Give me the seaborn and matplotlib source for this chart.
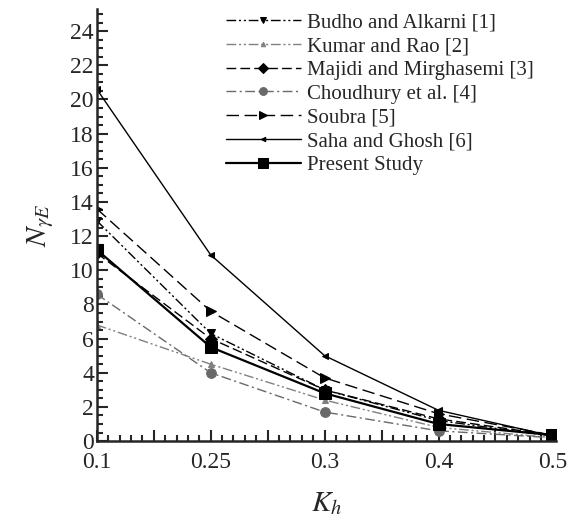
import matplotlib
matplotlib.use('Agg')
import matplotlib.pyplot as plt
import seaborn as sns
import numpy as np
from matplotlib.ticker import MultipleLocator, FixedLocator

# data
kh_labels = ['0.1', '0.25', '0.3', '0.4', '0.5']
budho = [12.9, 6.3, 3.0, 1.2, 0.3]
kumar = [6.8, 4.5, 2.4, 0.8, 0.2]
majidi = [11.0, 6.0, 3.0, 1.3, 0.35]
choudhury = [8.6, 4.0, 1.7, 0.6, 0.2]
soubra = [13.6, 7.6, 3.7, 1.6, 0.35]
saha = [20.6, 10.9, 5.0, 1.8, 0.3]
present = [11.2, 5.5, 2.8, 1.0, 0.35]

series = [
    ('Budho and Alkarni [1]', budho, 'black', 'v', (0, (7, 2, 1.5, 2, 1.5, 2)), 1.0, 6),
    ('Kumar and Rao [2]', kumar, 'gray', '^', (0, (7, 2, 1.5, 2, 1.5, 2)), 1.0, 4),
    ('Majidi and Mirghasemi [3]', majidi, 'black', 'D', (0, (7, 3)), 1.0, 6),
    ('Choudhury et al. [4]', choudhury, 'dimgray', 'o', (0, (7, 2.5, 1.5, 2.5)), 1.0, 7),
    ('Soubra [5]', soubra, 'black', '>', (0, (9, 4)), 1.0, 7),
    ('Saha and Ghosh [6]', saha, 'black', '<', '-', 1.0, 4),
    ('Present Study', present, 'black', 's', '-', 1.6, 9),
]

sns.set_style('ticks')
plt.rcParams['font.family'] = ['Liberation Serif', 'DejaVu Serif']
plt.rcParams['mathtext.fontset'] = 'stix'

fig = plt.figure(figsize=(5.76, 5.22), dpi=100)
ax = fig.add_axes([0.168, 0.155, 0.797, 0.828])

x = np.arange(len(kh_labels))
for name, vals, col, mk, ls, lw, ms in series:
    sns.lineplot(x=x, y=vals, ax=ax, color=col, marker=mk, linestyle=ls,
                 linewidth=lw, markersize=ms, markeredgecolor=col,
                 label=name)

ax.set_xlim(0, 4.03)
ax.set_ylim(0, 25.3)
ax.xaxis.set_major_locator(FixedLocator(np.arange(0, 4.01, 0.5)))
ax.set_xticklabels([kh_labels[int(t)] if float(t).is_integer() else ''
                    for t in np.arange(0, 4.01, 0.5)])
ax.xaxis.set_minor_locator(MultipleLocator(0.1))
ax.set_yticks(np.arange(0, 25, 2))
ax.yaxis.set_minor_locator(MultipleLocator(0.5))

ax.tick_params(which='both', direction='in', labelsize=17, width=1.5)
ax.tick_params(which='major', length=8)
ax.tick_params(which='minor', length=4)
ax.tick_params(axis='x', pad=8)
ax.tick_params(axis='y', pad=2)
for s in ['top', 'right']:
    ax.spines[s].set_visible(False)
for s in ['left', 'bottom']:
    ax.spines[s].set_linewidth(1.8)

ax.set_xlabel(r'$K_h$', fontsize=21, labelpad=12)
ax.set_ylabel(r'$N_{\gamma E}$', fontsize=21, labelpad=10)

leg = ax.legend(loc='upper right', frameon=False, fontsize=15, handlelength=3.6,
                handletextpad=0.3, labelspacing=0.2, borderaxespad=0.0,
                markerscale=0.8, bbox_to_anchor=(0.97, 1.01))

fig.savefig('out.png', dpi=100)
